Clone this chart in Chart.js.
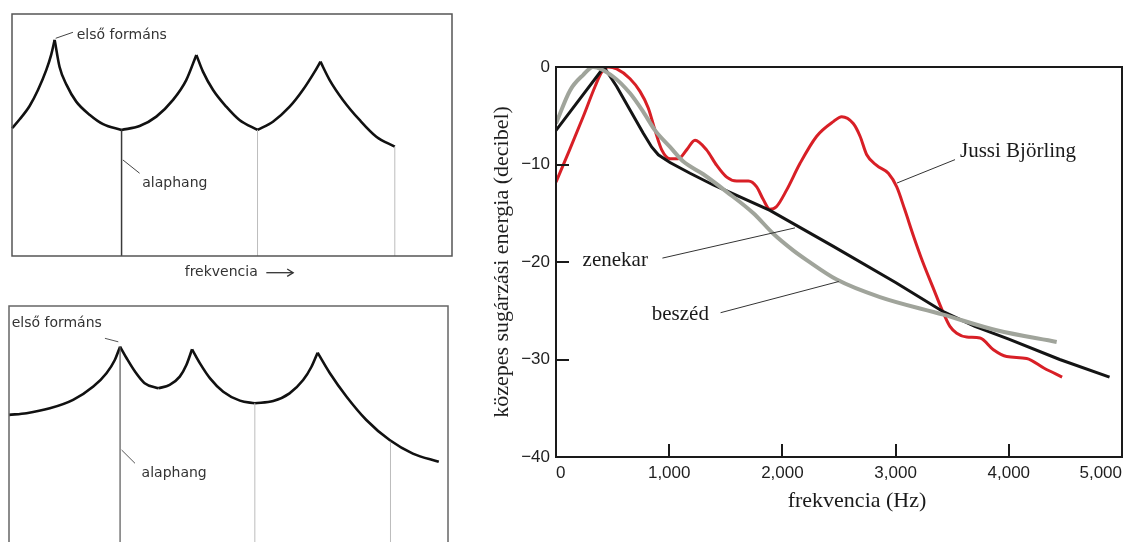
<!DOCTYPE html>
<html>
<head>
<meta charset="utf-8">
<script src="https://cdn.jsdelivr.net/npm/chart.js@4.4.1/dist/chart.umd.min.js"></script>
<style>
html,body{margin:0;padding:0;background:#ffffff;overflow:hidden;width:1132px;height:542px;}
canvas{position:absolute;display:block;}
#c1{left:0;top:0;}
#c2{left:0;top:290px;}
#c3{left:470px;top:0;}
</style>
</head>
<body>
<canvas id="c1" width="465" height="290"></canvas>
<canvas id="c2" width="465" height="270"></canvas>
<canvas id="c3" width="662" height="542"></canvas>
<script>
// ---------- Right chart data (Hz, dB) ----------
const freqTicks = [0, 1000, 2000, 3000, 4000, 5000];
const dbTicks = [0, -10, -20, -30, -40];

const bjorlingHz = [0,120,240,345,405,462,536,654,742,815,875,934,1007,1080,1154,1228,1330,1420,1508,1596,1700,1773,1831,1890,1949,2038,2155,2303,2450,2524,2626,2686,2745,2833,2936,3010,3080,3160,3240,3330,3421,3480,3540,3628,3746,3864,3981,4158,4313,4471];
const bjorlingDb = [-11.8,-8.5,-5.1,-2.0,-0.5,0,-0.2,-1.2,-2.5,-4.2,-6.5,-8.5,-9.4,-9.4,-8.5,-7.5,-8.5,-10.1,-11.3,-11.7,-11.7,-12.3,-13.6,-14.6,-14.3,-12.6,-9.9,-7.1,-5.6,-5.1,-5.8,-7.1,-9.0,-10.1,-10.9,-12.3,-14.6,-17.4,-20.0,-22.6,-25.2,-26.6,-27.3,-27.7,-27.8,-29.0,-29.7,-29.9,-30.9,-31.8];

const zenekarHz = [0,424,536,654,771,845,904,1007,1184,1390,1890,2450,3000,3421,3700,4000,4450,4890];
const zenekarDb = [-6.5,0,-2.0,-4.4,-6.8,-8.2,-9.0,-9.8,-10.9,-12.1,-14.7,-18.4,-22.1,-25.1,-26.6,-27.9,-30.0,-31.8];

const beszedHz = [0,124,241,327,506,654,771,875,1007,1125,1301,1508,1744,1920,2095,2215,2480,2862,3421,3892,4423];
const beszedDb = [-5.8,-2.4,-0.8,0,-1.0,-2.7,-4.6,-6.5,-8.2,-9.7,-11.0,-12.8,-15.0,-17.1,-18.8,-19.8,-21.8,-23.6,-25.4,-27.0,-28.2];

// ---------- Left panels: envelope arcs (relative frequency 0-100, relative level 0-100) ----------
const topArcs = [
  [[0,52.8],[1.75,56.5],[4.0,62.0],[5.9,68.6],[7.8,76.9],[8.9,83.1],[9.7,89.3]],
  [[9.7,89.3],[10.8,78.2],[12.4,70.7],[14.6,63.8],[17.7,58.3],[20.7,54.5],[24.9,52.1]],
  [[24.9,52.1],[29.0,53.7],[32.8,57.6],[36.6,64.5],[39.6,72.7],[41.9,83.1]],
  [[41.9,83.1],[43.4,76.2],[45.7,68.6],[48.7,61.7],[51.7,56.2],[55.8,52.1]],
  [[55.8,52.1],[59.3,55.5],[63.1,61.7],[66.1,68.6],[68.8,76.2],[70.1,80.3]],
  [[70.1,80.3],[72.2,72.7],[75.2,64.5],[79.0,56.2],[82.8,49.3],[87.0,45.2]]
];
const topHarmonicX = [24.9, 55.8, 87.0];
const topHarmonicLevel = [52.1, 52.1, 45.2];

const bottomArcs = [
  [[0,55.0],[4.0,55.7],[9.3,57.7],[14.6,61.2],[19.2,66.7],[22.2,72.2],[24.1,77.7],[25.3,83.2]],
  [[25.3,83.2],[26.8,78.4],[28.7,72.9],[30.9,68.1],[34.0,66.0]],
  [[34.0,66.0],[36.6,67.4],[38.9,70.8],[40.4,75.6],[41.7,82.1]],
  [[41.7,82.1],[43.5,76.3],[45.8,70.1],[48.8,64.6],[52.6,60.9],[56.0,59.8]],
  [[56.0,59.8],[60.2,60.7],[63.9,63.9],[67.0,69.4],[68.9,74.9],[70.3,80.7]],
  [[70.3,80.7],[73.1,72.2],[76.9,62.5],[81.4,52.9],[86.7,44.6],[92.0,39.0],[97.9,35.6]]
];
const bottomHarmonicX = [25.3, 56.0, 86.9];
const bottomHarmonicLevel = [83.2, 59.8, 43.9];

// ---------- helpers ----------
const toPts = (xs, ys) => xs.map((v, i) => ({x: v, y: ys[i]}));
const fmtHz = v => v >= 1000 ? Math.floor(v/1000) + ',' + String(v % 1000).padStart(3, '0') : String(v);
const fmtDb = v => v === 0 ? '0' : '\u2212' + Math.abs(v);

const annotPlugin = {
  id: 'annot',
  afterDraw(chart, args, o) {
    const {ctx, chartArea: a} = chart;
    const x = chart.scales.x, y = chart.scales.y;
    ctx.save();
    if (o.frame) {
      ctx.lineWidth = o.frame.width; ctx.strokeStyle = o.frame.color;
      ctx.strokeRect(a.left, a.top, a.right - a.left, a.bottom - a.top);
    }
    if (o.inTicks) {
      ctx.lineWidth = 2; ctx.strokeStyle = '#1a1a1a';
      x.ticks.map(t => t.value).filter(v => v !== x.min && v !== x.max).forEach(v => {
        const px = Math.round(x.getPixelForValue(v));
        ctx.beginPath(); ctx.moveTo(px, a.bottom); ctx.lineTo(px, a.bottom - o.inTicks); ctx.stroke();
      });
      y.ticks.map(t => t.value).filter(v => v !== y.min && v !== y.max).forEach(v => {
        const py = Math.round(y.getPixelForValue(v));
        ctx.beginPath(); ctx.moveTo(a.left, py); ctx.lineTo(a.left + o.inTicks, py); ctx.stroke();
      });
    }
    (o.lines || []).forEach(l => {
      const x1 = x.getPixelForValue(l.p[0]), y1 = y.getPixelForValue(l.p[1]);
      const x2 = x.getPixelForValue(l.p[2]), y2 = y.getPixelForValue(l.p[3]);
      ctx.lineWidth = l.w || 1; ctx.strokeStyle = l.c || '#333';
      ctx.beginPath(); ctx.moveTo(x1, y1); ctx.lineTo(x2, y2); ctx.stroke();
      if (l.arrow) {
        const ang = Math.atan2(y2 - y1, x2 - x1), h = 7;
        ctx.beginPath();
        ctx.moveTo(x2 - h * Math.cos(ang - 0.55), y2 - h * Math.sin(ang - 0.55));
        ctx.lineTo(x2, y2);
        ctx.lineTo(x2 - h * Math.cos(ang + 0.55), y2 - h * Math.sin(ang + 0.55));
        ctx.stroke();
      }
    });
    (o.texts || []).forEach(t => {
      ctx.font = t.font || o.font; ctx.fillStyle = t.color || o.color || '#222';
      ctx.textAlign = t.align || 'left'; ctx.textBaseline = 'middle';
      ctx.fillText(t.t, x.getPixelForValue(t.x), y.getPixelForValue(t.y));
    });
    ctx.restore();
  }
};

function panelChart(id, arcs, hx, hl, pad, firstStyle, annot) {
  const datasets = [];
  hx.forEach((xv, i) => {
    datasets.push({
      data: [{x: xv, y: 0}, {x: xv, y: hl[i]}],
      borderColor: i === 0 ? firstStyle.color : '#bdbdbd',
      borderWidth: i === 0 ? firstStyle.width : 1,
      pointRadius: 0, tension: 0
    });
  });
  arcs.forEach(arc => {
    datasets.push({
      data: arc.map(p => ({x: p[0], y: p[1]})),
      borderColor: '#111111', borderWidth: 2.6,
      pointRadius: 0, cubicInterpolationMode: 'monotone', clip: false
    });
  });
  return new Chart(document.getElementById(id), {
    type: 'line',
    data: {datasets},
    options: {
      responsive: false, animation: false,
      layout: {padding: pad},
      scales: {
        x: {type: 'linear', min: 0, max: 100, display: false},
        y: {type: 'linear', min: 0, max: 100, display: false}
      },
      plugins: {legend: {display: false}, tooltip: {enabled: false}, annot: annot}
    },
    plugins: [annotPlugin]
  });
}

const panelFont = '14px "DejaVu Sans"';
panelChart('c1', topArcs, topHarmonicX, topHarmonicLevel,
  {left: 12, top: 14, right: 13, bottom: 34},
  {color: '#3a3a3a', width: 1.5},
  {
    frame: {width: 1.5, color: '#555555'},
    font: panelFont, color: '#333333',
    lines: [
      {p: [9.93, 89.96, 13.86, 92.44], c: '#444'},
      {p: [25.2, 39.7, 29.0, 34.2], c: '#444'},
      {p: [57.8, -6.9, 63.9, -6.9], c: '#333', w: 1.3, arrow: true}
    ],
    texts: [
      {t: 'első formáns', x: 14.7, y: 91.3},
      {t: 'alaphang', x: 29.6, y: 30.2},
      {t: 'frekvencia', x: 39.25, y: -6.9}
    ]
  });

panelChart('c2', bottomArcs, bottomHarmonicX, bottomHarmonicLevel,
  {left: 9, top: 16, right: 17, bottom: 12},
  {color: '#555555', width: 1.2},
  {
    frame: {width: 1.5, color: '#666666'},
    font: panelFont, color: '#333333',
    lines: [
      {p: [21.85, 86.65, 24.9, 85.2], c: '#555'},
      {p: [25.65, 40.5, 28.7, 35.0], c: '#555'}
    ],
    texts: [
      {t: 'első formáns', x: 0.6, y: 92.9},
      {t: 'alaphang', x: 30.2, y: 30.9}
    ]
  });

// ---------- Right chart ----------
const serif = '"Liberation Serif", "Times New Roman", serif';
new Chart(document.getElementById('c3'), {
  type: 'line',
  data: {
    datasets: [
      {label: 'beszéd', data: toPts(beszedHz, beszedDb), borderColor: '#a0a49b', borderWidth: 4,
       pointRadius: 0, cubicInterpolationMode: 'monotone'},
      {label: 'zenekar', data: toPts(zenekarHz, zenekarDb), borderColor: '#141414', borderWidth: 3,
       pointRadius: 0, tension: 0},
      {label: 'Jussi Björling', data: toPts(bjorlingHz, bjorlingDb), borderColor: '#d81f26', borderWidth: 3,
       pointRadius: 0, cubicInterpolationMode: 'monotone'}
    ]
  },
  options: {
    responsive: false, animation: false,
    layout: {padding: {left: 0, top: 67, right: 10, bottom: 0}},
    scales: {
      x: {
        type: 'linear', min: 0, max: 5000,
        afterBuildTicks: s => { s.ticks = freqTicks.map(v => ({value: v})); },
        afterFit: s => { s.height = 85; },
        grid: {display: false, drawTicks: false},
        border: {display: false},
        ticks: {callback: v => fmtHz(v), align: 'inner', padding: 6, color: '#1e1e1e',
                font: {family: '"Liberation Sans", Arial, sans-serif', size: 17}, maxRotation: 0}
      },
      y: {
        type: 'linear', min: -40, max: 0,
        afterBuildTicks: s => { s.ticks = dbTicks.map(v => ({value: v})); },
        afterFit: s => { s.width = 86; },
        grid: {display: false, drawTicks: false},
        border: {display: false},
        ticks: {callback: v => fmtDb(v), padding: 6, color: '#1e1e1e',
                font: {family: '"Liberation Sans", Arial, sans-serif', size: 17}},
        title: {display: true, text: 'közepes sugárzási energia (decibel)', color: '#1e1e1e',
                font: {family: serif, size: 22}, padding: {top: 19, bottom: 0}}
      }
    },
    plugins: {
      legend: {display: false}, tooltip: {enabled: false},
      annot: {
        frame: {width: 2, color: '#1a1a1a'},
        inTicks: 13,
        font: '21px ' + serif, color: '#1a1a1a',
        lines: [
          {p: [3012, -11.9, 3525, -9.5], c: '#333'},
          {p: [940, -19.6, 2111, -16.5], c: '#333'},
          {p: [1454, -25.2, 2498, -22.0], c: '#333'}
        ],
        texts: [
          {t: 'Jussi Björling', x: 3569, y: -8.7},
          {t: 'zenekar', x: 235, y: -19.8},
          {t: 'beszéd', x: 846, y: -25.4},
          {t: 'frekvencia (Hz)', x: 2659, y: -44.5, align: 'center', font: '22px ' + serif}
        ]
      }
    }
  },
  plugins: [annotPlugin]
});
</script>
</body>
</html>
